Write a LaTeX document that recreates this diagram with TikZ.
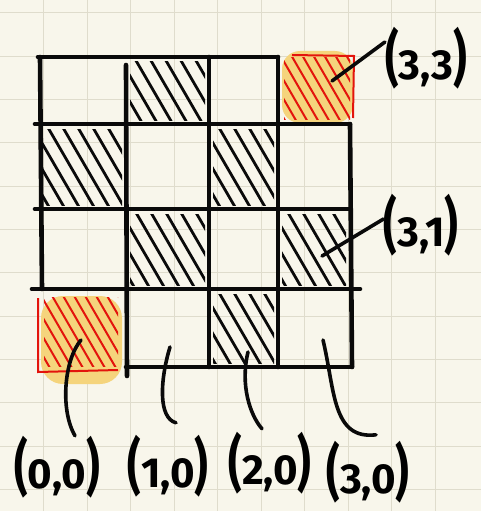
\documentclass[tikz,border=0pt]{standalone}
\usepackage{graphicx}
\usepackage{fontspec}
\setmainfont{Fira Sans}
\usetikzlibrary{positioning}
\definecolor{paper}{HTML}{F8F6EB}
\definecolor{paper-line}{HTML}{DFDCCC}
\definecolor{marker-yellow}{HTML}{F5D47C}
\definecolor{marker-red}{HTML}{E3140C}
\definecolor{ink}{HTML}{0A0A0A}

% one square, pair label with tall parentheses
\newcommand{\cellname}[2]{\scalebox{1}[1.45]{(}#1,#2\scalebox{1}[1.45]{)}}
% diagonal strokes inside a square: x, y, width, height, step, style
\newcommand{\hatchcell}[6]{%
  \begin{scope}
    \clip (#1+4,#2+5) rectangle (#1+#3-4,#2+#4-4);
    \pgfmathsetmacro{\snext}{-70+#5}
    \foreach \s in {-70,\snext,...,90}
      \draw[#6] (#1+\s,#2-5) -- ++(58,100);
  \end{scope}}

\begin{document}
\begin{tikzpicture}[x=1pt,y=-1pt,
    board/.style={ink, line width=4.6pt, line cap=round},
    hatch/.style={ink, line width=2.8pt, line cap=round},
    redhatch/.style={marker-red, line width=2pt, line cap=round},
    redline/.style={marker-red, line width=2pt},
    leader/.style={ink, line width=3.6pt, line cap=round},
    label/.style={inner sep=0pt, font=\fontsize{42}{42}\selectfont\bfseries}]
  % paper
  \fill[paper] (0,0) rectangle (481,511);
  \useasboundingbox (0,0) rectangle (481,511);
  \foreach \k in {1,...,10}
    \draw[paper-line, line width=1pt] (43.5*\k,0) -- (43.5*\k,511);
  \foreach \k in {0,...,11}
    \draw[paper-line, line width=1pt] (0,13+43.3*\k) -- (481,13+43.3*\k);

  % removed corners
  \fill[marker-yellow, rounded corners=18pt] (282,51) rectangle (353,123);
  \fill[marker-yellow, rounded corners=22pt] (41,296) rectangle (122,384);
  \hatchcell{280}{53}{74}{70}{11}{redhatch}
  \hatchcell{40}{292}{82}{78}{11}{redhatch}
  \draw[redline] (292,55) -- (354,56) -- (353,118);
  \draw[redline] (38,298) -- (38,372) -- (118,370);

  % dark squares
  \foreach \cx/\cy/\cw/\ch in {126/57/83/67, 38/124/88/85, 209/124/69/85,
      126/209/83/80, 278/209/72/80, 209/289/69/78}
    \hatchcell{\cx}{\cy}{\cw}{\ch}{15}{hatch};

  % board lines
  \draw[board] (38,57) -- (278,57);
  \draw[board] (40,57) -- (42,289);
  \draw[board] (126,65) -- (127,376);
  \draw[board] (209,57) -- (209,367);
  \draw[board] (278,57) -- (278,367);
  \draw[board] (350,124) -- (352,367);
  \draw[board] (35,124) -- (350,124);
  \draw[board] (35,209) -- (350,209);
  \draw[board] (32,289) -- (360,289);
  \draw[board] (126,367) -- (352,367);

  % labels
  \coordinate (c33) at (332,81);
  \coordinate (c31) at (322,256);
  \coordinate (c00) at (81,340);
  \coordinate (c10) at (170,347);
  \coordinate (c20) at (248,352);
  \coordinate (c30) at (323,340);
  \node[label] (l33) at (426,58) {\cellname{3}{3}};
  \node[label] (l31) at (421,225) {\cellname{3}{1}};
  \node[label] (l00) at (57,467) {\cellname{0}{0}};
  \node[label] (l10) at (168,466) {\cellname{1}{0}};
  \node[label] (l20) at (270,463) {\cellname{2}{0}};
  \node[label] (l30) at (368,472) {\cellname{3}{0}};
  \draw[leader] (c33) -- ([yshift=16pt]l33.west);
  \draw[leader] (c31) -- ([yshift=6pt]l31.west);
  \draw[leader] (c00) .. controls (64,360) and (60,410) .. ([xshift=18pt]l00.north);
  \draw[leader] (c10) .. controls (160,380) and (158,418) .. ([xshift=8pt,yshift=12pt]l10.north);
  \draw[leader] (c20) .. controls (240,385) and (250,415) .. ([xshift=-8pt,yshift=3pt]l20.north);
  \draw[leader] (c30) .. controls (335,390) and (332,440) .. ([xshift=8pt,yshift=6pt]l30.north);
\end{tikzpicture}
\end{document}
